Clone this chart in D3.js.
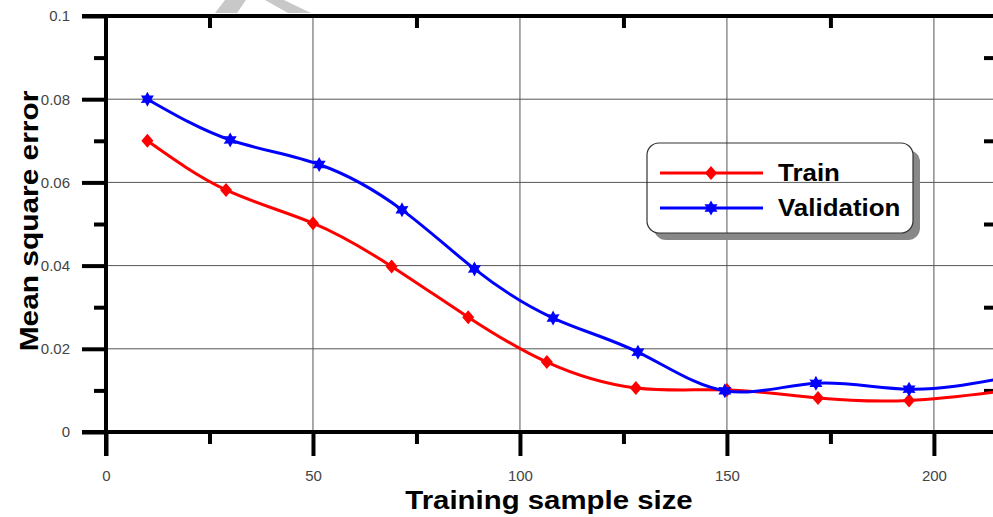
<!DOCTYPE html>
<html lang="en">
<head>
<meta charset="utf-8">
<script src="https://d3js.org/d3.v7.min.js"></script>
<style>
  body { margin: 0; background: #fff; }
  svg { display: block; font-family: Arial, "Liberation Sans", sans-serif; }
</style>
</head>
<body>
<div id="chart"></div>
<script>
// data
var trainX = [10, 29, 50, 69, 87.5, 106.5, 128, 150, 172, 194, 216];
var trainY = [0.070, 0.0582, 0.0502, 0.0398, 0.0276, 0.0168, 0.0106, 0.0101, 0.0082, 0.0076, 0.0098];
var validX = [10, 30, 51.5, 71.5, 89, 108, 128.5, 149.5, 171.5, 194, 216];
var validY = [0.080, 0.0702, 0.0643, 0.0534, 0.0392, 0.0274, 0.0192, 0.0099, 0.0117, 0.0103, 0.0128];
var seriesNames = ["Train", "Validation"];
var xMajor = [0, 50, 100, 150, 200];
var xMinor = [25, 75, 125, 175];
var yMajor = [0, 0.02, 0.04, 0.06, 0.08, 0.1];
var yMinor = [0.01, 0.03, 0.05, 0.07, 0.09];

var W = 993, H = 517;
var x = d3.scaleLinear().domain([0, 215]).range([106, 996]);
var y = d3.scaleLinear().domain([0, 0.1]).range([432, 16]);

var svg = d3.select("#chart").append("svg")
    .attr("width", W)
    .attr("height", H);

// faint grey shape at the top (scan artefact in the original)
svg.append("path")
    .attr("d", "M225,0 L246,0 L237,13 L215,13 Z M265,0 L284,0 L311,13 L288,13 Z")
    .attr("fill", "#c8c8c8");

// grid
svg.append("g").selectAll("line")
    .data(xMajor.filter(function(d) { return d > 0; }))
    .enter().append("line")
    .attr("x1", function(d) { return x(d); })
    .attr("x2", function(d) { return x(d); })
    .attr("y1", y(0.1))
    .attr("y2", y(0))
    .attr("stroke", "#555")
    .attr("stroke-width", 1);

svg.append("g").selectAll("line")
    .data(yMajor.filter(function(d) { return d > 0 && d < 0.1; }))
    .enter().append("line")
    .attr("x1", x(0))
    .attr("x2", x(215))
    .attr("y1", function(d) { return y(d); })
    .attr("y2", function(d) { return y(d); })
    .attr("stroke", "#555")
    .attr("stroke-width", 1);

// axes
var gBottom = svg.append("g")
    .attr("transform", "translate(0," + y(0) + ")")
    .call(d3.axisBottom(x).tickValues(xMajor).tickSize(24).tickPadding(14).tickFormat(d3.format("d")));
var gBottomMinor = svg.append("g")
    .attr("transform", "translate(0," + y(0) + ")")
    .call(d3.axisBottom(x).tickValues(xMinor).tickSize(12).tickFormat(""));
var gLeft = svg.append("g")
    .attr("transform", "translate(" + x(0) + ",0)")
    .call(d3.axisLeft(y).tickValues(yMajor).tickSize(24).tickPadding(12)
        .tickFormat(function(d) { return d === 0 ? "0" : String(+d.toFixed(2)); }));
var gLeftMinor = svg.append("g")
    .attr("transform", "translate(" + x(0) + ",0)")
    .call(d3.axisLeft(y).tickValues(yMinor).tickSize(12).tickFormat(""));
var gTop = svg.append("g")
    .attr("transform", "translate(0," + y(0.1) + ")")
    .call(d3.axisTop(x).tickValues(xMinor).tickSize(-12).tickFormat(""));
var gRight = svg.append("g")
    .attr("transform", "translate(" + x(215) + ",0)")
    .call(d3.axisRight(y).tickValues(yMinor).tickSize(-12).tickFormat(""));

[gBottom, gBottomMinor, gLeft, gLeftMinor, gTop, gRight].forEach(function(g) {
    g.select(".domain").attr("stroke", "#000").attr("stroke-width", 4);
    g.selectAll(".tick line").attr("stroke", "#000").attr("stroke-width", 4);
});
[gBottomMinor, gLeftMinor, gTop, gRight].forEach(function(g) {
    g.select(".domain").remove();
});
// make the frame lines reach the corners
gBottom.select(".domain").attr("d", "M" + (x(0) - 24) + ",0H" + x(215));
gLeft.select(".domain").attr("d", "M0," + y(0.1) + "V" + (y(0) + 24));
gTop.append("path").attr("d", "M" + (x(0) - 24) + ",0H" + x(215)).attr("stroke", "#000").attr("stroke-width", 4);
gRight.append("path").attr("d", "M0," + y(0.1) + "V" + y(0)).attr("stroke", "#000").attr("stroke-width", 4);
[gLeft, gBottom].forEach(function(g) {
    g.selectAll(".tick text")
        .attr("font-size", 15)
        .attr("fill", "#444")
        .attr("font-family", "Arial, 'Liberation Sans', sans-serif");
});

// axis titles (the original lettering is a bit wider than Arial)
svg.append("text")
    .attr("transform", "translate(38,221) rotate(-90) scale(1.15,1)")
    .attr("text-anchor", "middle")
    .attr("font-size", 26)
    .attr("font-weight", "bold")
    .text("Mean square error");
svg.append("text")
    .attr("transform", "translate(549,509) scale(1.13,1)")
    .attr("text-anchor", "middle")
    .attr("font-size", 26)
    .attr("font-weight", "bold")
    .text("Training sample size");

// markers
var diamond = "M0,-7L6,0L0,7L-6,0Z";
function hexStar(ro, ri) {
    var p = [];
    for (var i = 0; i < 12; i++) {
        var r = i % 2 === 0 ? ro : ri;
        var a = Math.PI / 6 * i - Math.PI / 2;
        p.push([r * Math.cos(a), r * Math.sin(a)]);
    }
    return "M" + p.map(function(q) { return q[0].toFixed(2) + "," + q[1].toFixed(2); }).join("L") + "Z";
}
var star = hexStar(7.5, 4.2);

var line = d3.line()
    .x(function(d) { return x(d[0]); })
    .y(function(d) { return y(d[1]); })
    .curve(d3.curveNatural);

var train = trainX.map(function(v, i) { return [v, trainY[i]]; });
var valid = validX.map(function(v, i) { return [v, validY[i]]; });

var series = [
    { name: seriesNames[0], pts: train, color: "#ff0000", marker: diamond },
    { name: seriesNames[1], pts: valid, color: "#0000ff", marker: star }
];

series.forEach(function(s) {
    svg.append("path")
        .datum(s.pts)
        .attr("d", line)
        .attr("fill", "none")
        .attr("stroke", s.color)
        .attr("stroke-width", 3);
    svg.append("g").selectAll("path")
        .data(s.pts)
        .enter().append("path")
        .attr("transform", function(d) { return "translate(" + x(d[0]) + "," + y(d[1]) + ")"; })
        .attr("d", s.marker)
        .attr("fill", s.color);
});

// legend
var lx = 647, ly = 143, lw = 266, lh = 90;
var defs = svg.append("defs");
var mask = defs.append("mask").attr("id", "legmask");
mask.append("rect").attr("width", W).attr("height", H).attr("fill", "#fff");
mask.append("rect").attr("x", lx).attr("y", ly).attr("width", lw).attr("height", lh).attr("rx", 12).attr("fill", "#000");
svg.append("rect")
    .attr("x", lx + 7).attr("y", ly + 7).attr("width", lw).attr("height", lh).attr("rx", 12)
    .attr("fill", "#888")
    .attr("mask", "url(#legmask)");
svg.append("rect")
    .attr("x", lx).attr("y", ly).attr("width", lw).attr("height", lh).attr("rx", 12)
    .attr("fill", "none")
    .attr("stroke", "#333")
    .attr("stroke-width", 1.2);

var leg = svg.append("g").selectAll("g")
    .data(series)
    .enter().append("g")
    .attr("transform", function(d, i) { return "translate(0," + (173 + i * 35) + ")"; });
leg.append("line")
    .attr("x1", 660).attr("x2", 763)
    .attr("stroke", function(d) { return d.color; })
    .attr("stroke-width", 3);
leg.append("path")
    .attr("transform", "translate(711,0)")
    .attr("d", function(d) { return d.marker; })
    .attr("fill", function(d) { return d.color; });
leg.append("text")
    .attr("transform", "translate(778,8) scale(1.08,1)")
    .attr("font-size", 24)
    .attr("font-weight", "bold")
    .text(function(d) { return d.name; });
</script>
</body>
</html>
